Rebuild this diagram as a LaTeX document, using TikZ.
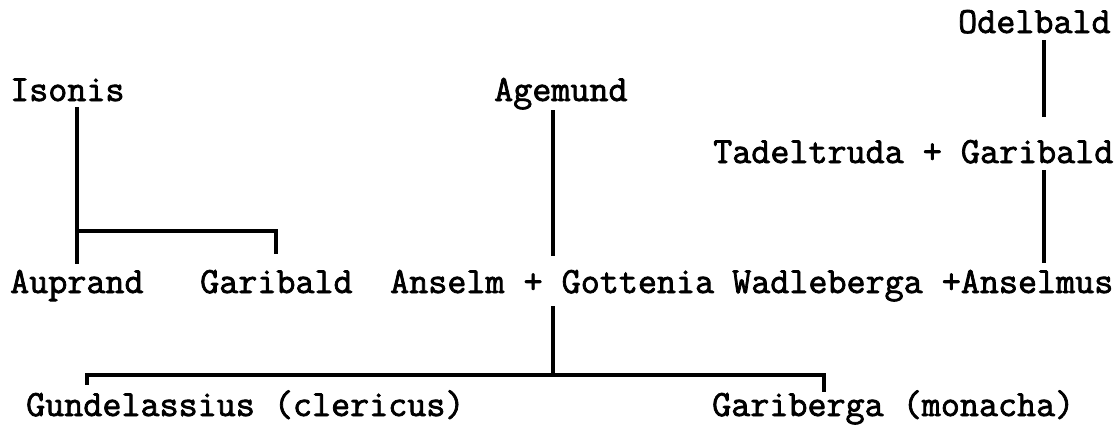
\documentclass[tikz,border=0pt]{standalone}
\usepackage{fontspec}
\setmonofont{Latin Modern Mono}[FakeBold=2]
\begin{document}
\begin{tikzpicture}[x=1pt,y=-1pt,
  person/.style={anchor=base west,inner sep=0pt,text height=21pt,text depth=7pt,
    font=\fontsize{37}{39}\ttfamily},
  link/.style={line width=3.5pt}]
\useasboundingbox (0,0) rectangle (1120,426);
% names
\node[person] (odelbald) at (958,33) {Odelbald};
\node[person] (isonis)   at (10,101) {Isonis};
\node[person] (agemund)  at (494,101) {Agemund};
\node[person] (tadel)    at (713,163) {Tadeltruda + Garibald};
\node[person] (auprand)  at (10,293) {Auprand};
\node[person] (garibald) at (200,293) {Garibald};
\node[person] (anselm)   at (390,293) {Anselm + Gottenia};
\node[person] (wadle)    at (732,293) {Wadleberga +Anselmus};
\node[person] (gundel)   at (26,416) {Gundelassius (clericus)};
\node[person] (gariberga) at (712,416) {Gariberga (monacha)};
% line positions
\coordinate (xi) at (77,0);
\coordinate (xg) at (276,0);
\coordinate (xa) at (553,0);
\coordinate (xo) at (1044,0);
\coordinate (bi) at (0,231);
\coordinate (bc) at (0,375);
\coordinate (xl) at (87,0);
\coordinate (xr) at (824,0);
% Isonis and children
\draw[link] ([yshift=1pt]isonis.south -| xi) -- ([yshift=8pt]auprand.north -| xi);
\draw[link] (bi -| xi) -- (bi -| xg) -- ([yshift=18pt]garibald.north -| xg);
% Agemund to Anselm
\draw[link] ([yshift=-2pt]agemund.south -| xa) -- ([yshift=16pt]anselm.north -| xa);
% Odelbald to Garibald, then to Anselmus
\draw[link] (odelbald.south -| xo) -- ([yshift=25pt]tadel.north -| xo);
\draw[link] (tadel.south -| xo) -- ([yshift=9pt]wadle.north -| xo);
% children of Anselm and Gottenia
\draw[link] ([yshift=-6pt]anselm.south -| xa) -- (bc -| xa);
\draw[link] ([yshift=10pt]gundel.north -| xl) -- (bc -| xl) -- (bc -| xr) -- ([yshift=3pt]gariberga.north -| xr);
\end{tikzpicture}
\end{document}
